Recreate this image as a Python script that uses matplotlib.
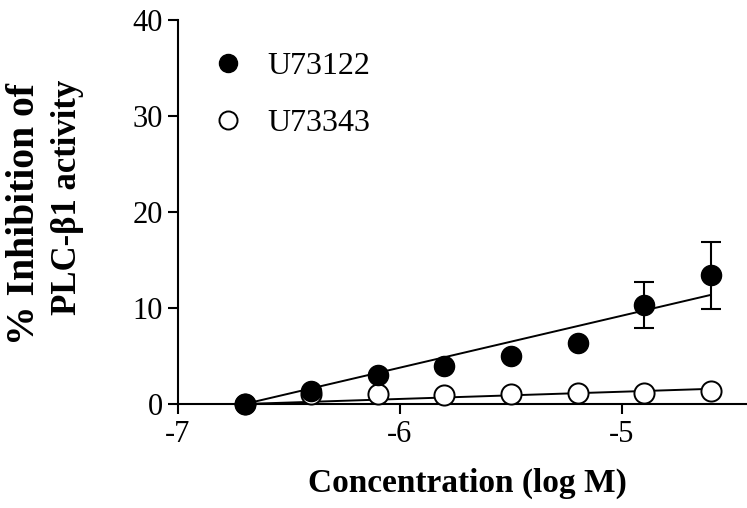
import numpy as np
import matplotlib
matplotlib.use("Agg")
import matplotlib.pyplot as plt
from matplotlib.lines import Line2D

plt.rcParams['font.family'] = ['Liberation Serif', 'DejaVu Serif']

# log molar concentration
log_conc = [-6.7, -6.4, -6.1, -5.8, -5.5, -5.2, -4.9, -4.6]

# % inhibition, U73122 (active) and U73343 (inactive analogue)
u73122 = [0.0, 1.4, 3.0, 4.0, 5.0, 6.4, 10.35, 13.4]
u73122_err = [0, 0, 0, 0, 0, 0, 2.4, 3.5]
u73343 = [0.0, 1.0, 1.0, 0.9, 1.0, 1.1, 1.1, 1.4]

x_ticks = [-7, -6, -5]
y_ticks = [0, 10, 20, 30, 40]


def fit_through_first(x, y):
    """Least-squares line anchored at the first (vehicle) point."""
    x = np.asarray(x, float)
    y = np.asarray(y, float)
    dx = x - x[0]
    slope = np.sum(dx * (y - y[0])) / np.sum(dx ** 2)
    return x, y[0] + slope * dx


W, H = 747, 508
fig = plt.figure(figsize=(W / 100, H / 100), dpi=100)
ax = fig.add_axes([178 / W, (H - 404) / H, (W - 178) / W, (404 - 20) / H])

ax.set_xlim(-7, -7 + (W - 178) / 222.0)
ax.set_ylim(0, 40)

# fitted lines
fx, fy = fit_through_first(log_conc, u73122)
ax.plot([fx[0], fx[-1]], [fy[0], fy[-1]], color='black', lw=1.4, zorder=2, clip_on=False)
ox, oy = fit_through_first(log_conc, u73343)
ax.plot([ox[0], ox[-1]], [oy[0], oy[-1]], color='black', lw=1.4, zorder=2, clip_on=False)

# open circles beneath filled ones
ax.plot(log_conc, u73343, 'o', ms=14.5, mfc='white', mec='black', mew=1.4,
        zorder=3, clip_on=False)
ax.errorbar(log_conc[6:], u73122[6:], yerr=u73122_err[6:], fmt='none',
            ecolor='black', elinewidth=1.5, capsize=7.5, capthick=1.5, zorder=4)
ax.plot(log_conc, u73122, 'o', ms=14.5, mfc='black', mec='black',
        zorder=5, clip_on=False)

ax.set_xticks(x_ticks)
ax.set_xticklabels([f"-{abs(t)}" for t in x_ticks])
ax.set_yticks(y_ticks)
ax.tick_params(axis='both', direction='out', length=7.2, width=1.5, labelsize=22)
ax.tick_params(axis='x', pad=4.6)
ax.tick_params(axis='y', pad=3.6)

for side in ('top', 'right'):
    ax.spines[side].set_visible(False)
for side in ('left', 'bottom'):
    ax.spines[side].set_linewidth(1.5)

fig.text(467 / W, 1 - 483 / H, 'Concentration (log M)', fontsize=24,
         fontweight='bold', ha='center', va='center')

# two-line y title, lines ending flush at the top
fig.text(25 / W, 1 - 83 / H, '% Inhibition of', fontsize=28.5,
         fontweight='bold', rotation=90, ha='center', va='top')
fig.text(67 / W, 1 - 80 / H, 'PLC-\u03b21 activity', fontsize=25,
         fontweight='bold', rotation=90, ha='center', va='top')

handles = [
    Line2D([], [], ls='none', marker='o', ms=13, mfc='black', mec='black'),
    Line2D([], [], ls='none', marker='o', ms=13, mfc='white', mec='black', mew=1.4),
]
ax.legend(handles, ['U73122', 'U73343'], frameon=False, fontsize=23,
          loc='upper left', bbox_to_anchor=(212 / W, 1 - 52 / H),
          bbox_transform=fig.transFigure, handlelength=1.0, handletextpad=0.72,
          labelspacing=0.86, borderpad=0, borderaxespad=0)

fig.savefig('out.png', dpi=100)
